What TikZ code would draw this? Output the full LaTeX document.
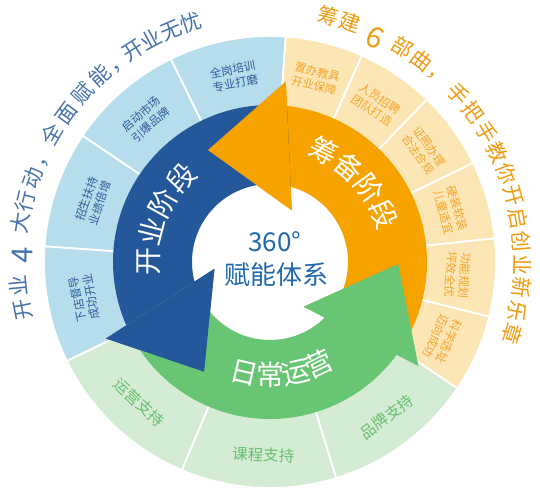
\documentclass[tikz,border=0pt]{standalone}
\usepackage{fontspec}
\setmainfont{Noto Sans CJK SC}
\definecolor{darr}{HTML}{24589A}
\definecolor{oarr}{HTML}{F6A300}
\definecolor{garr}{HTML}{67C573}
\definecolor{lblue}{HTML}{B5DDEB}
\definecolor{lorange}{HTML}{FDE6B6}
\definecolor{lgreen}{HTML}{D5ECD4}
\definecolor{tblue}{HTML}{2E5E9E}
\definecolor{otblue}{HTML}{4672AC}
\definecolor{torange}{HTML}{F2A528}
\definecolor{otorange}{HTML}{EF9B0F}
\definecolor{tgreen}{HTML}{69BE6E}
\definecolor{tcenter}{HTML}{1F68AD}
\tikzset{
  segbox/.style={fill=#1, draw=white, line width=1.8pt},
  segtext/.style={text=#1, align=center, inner sep=0pt, font=\fontsize{11.5}{14}\selectfont},
  greentext/.style={text=tgreen, inner sep=0pt, font=\fontsize{15.5}{18}\selectfont},
  ringchar/.style={text=#1, inner sep=0pt, text height=0.86em, text depth=0.14em, font=\fontsize{21}{21}\selectfont},
  bigdigit/.style={text=#1, inner sep=0pt, font=\fontsize{29}{29}\selectfont},
  arrowchar/.style={text=white, inner sep=0pt, text height=0.86em, text depth=0.14em, font=\fontsize{28}{28}\selectfont},
  centertext/.style={text=tcenter, inner sep=0pt, font=\fontsize{26}{26}\selectfont}
}
\begin{document}
\begin{tikzpicture}[x=1pt,y=1pt]
\useasboundingbox (0,0) rectangle (540,503);
\begin{scope}[shift={(270,241)}]
% outer segments
\foreach \s/\e/\col in {206/176/lblue,176/146/lblue,146/116/lblue,116/86/lblue,
  86/66/lorange,66/46/lorange,46/26/lorange,26/6/lorange,6/-14/lorange,-14/-34/lorange,
  -34/-73/lgreen,-73/-113/lgreen,-113/-154/lgreen}
  \path[segbox=\col] (\s:150) arc[start angle=\s, end angle=\e, radius=150]
     -- (\e:226) arc[start angle=\e, end angle=\s, radius=226] -- cycle;
% arrow bodies
\foreach \r/\col in {0/oarr,120/darr,240/garr}
  \fill[\col] ({\r-36.2}:157) arc[start angle=\r-36.2, end angle=\r+83.8, radius=157]
     -- ({\r+85}:181) -- ({\r+119}:128) -- ({\r+67}:56) -- ({\r+74.6}:78)
     arc[start angle=\r+74.6, end angle=\r-45.4, radius=78] -- cycle;
% arrow heads on top
\foreach \r/\col in {0/oarr,120/darr,240/garr}
  \fill[\col] ({\r+85}:181) -- ({\r+119}:128) -- ({\r+67}:56) -- cycle;
% segment texts
\node[segtext=tblue, rotate=11] (s1) at (101:189) {全岗培训\\专业打磨};
\node[segtext=tblue, rotate=41] (s2) at (131:189) {启动市场\\引爆品牌};
\node[segtext=tblue, rotate=71] (s3) at (161:187) {招生扶持\\业绩倍增};
\node[segtext=tblue, rotate=101] (s4) at (191:189) {下店督导\\成功开业};
\node[segtext=torange, rotate=-14] (s5) at (76:189) {置办教具\\开业保障};
\node[segtext=torange, rotate=-34] (s6) at (56:190) {人员招聘\\团队打造};
\node[segtext=torange, rotate=-54] (s7) at (36:190) {证照办理\\合法合规};
\node[segtext=torange, rotate=-74] (s8) at (16:188) {硬装软装\\儿童适宜};
\node[segtext=torange, rotate=-94] (s9) at (-4:188) {功能规划\\坪效全优};
\node[segtext=torange, rotate=-114] (s10) at (-24:189) {科学选址\\迈向成功};
\node[greentext, rotate=-43] (s11) at (-133:192) {运营支持};
\node[greentext, rotate=-2] (s12) at (-92:193) {课程支持};
\node[greentext, rotate=37] (s13) at (-53:194) {品牌支持};
% outer blue text
\foreach \a/\c [count=\i] in {191/开,185.5/业,171.2/大,166/行,160.5/动,155/，,149.6/全,143.8/面,138/赋,132.3/能,127/，,122.8/开,118/业,113.2/无,108.3/忧}
  \node[ringchar=otblue, rotate=\a-90] (bt\i) at (\a:248) {\c};
\node[bigdigit=otblue, rotate=88.5] (b4) at (178.5:248) {4};
% outer orange text
\foreach \a/\c [count=\i] in {76.6/筹,71.6/建,58.4/部,53.1/曲,47.8/，,41.6/手,36.3/把,31/手,25.8/教,20.5/你,15.2/开,9.9/启,4.6/创,-0.7/业,-5.9/新,-11.2/乐,-16.5/章}
  \node[ringchar=otorange, rotate=\a-90] (ot\i) at (\a:248) {\c};
\node[bigdigit=otorange, rotate=-25.2] (o6) at (64.8:248) {6};
% arrow labels
\foreach \a/\c [count=\i] in {64/筹,50/备,36.5/阶,23/段}
  \node[arrowchar, rotate=\a-90] (oa\i) at (\a:116) {\c};
\foreach \a/\c [count=\i] in {180/开,165.5/业,151/阶,136.5/段}
  \node[arrowchar, rotate=\a-90] (ba\i) at (\a:115) {\c};
\foreach \a/\c [count=\i] in {-103/日,-90/常,-77/运,-64.5/营}
  \node[arrowchar, rotate=\a+90] (ga\i) at (\a:120) {\c};
% center
\node[centertext] (c1) at (5,20) {360°};
\node[centertext] (c2) at (6,-13) {赋能体系};
\end{scope}
\end{tikzpicture}
\end{document}
